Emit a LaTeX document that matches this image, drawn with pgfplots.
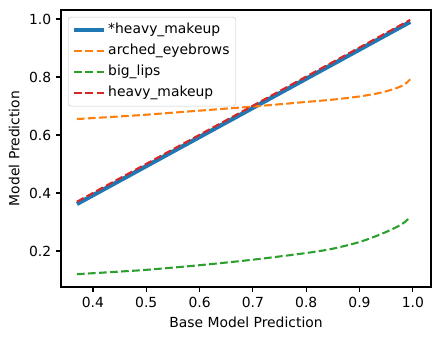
\documentclass[border=0pt]{standalone}
\usepackage{pgfplots}
\pgfplotsset{compat=1.18}
\usepackage{fontspec}
\setmainfont{DejaVu Sans}
\definecolor{c0}{HTML}{1F77B4}
\definecolor{c1}{HTML}{FF7F0E}
\definecolor{c2}{HTML}{2CA02C}
\definecolor{c3}{HTML}{D62728}
\begin{document}
\begin{tikzpicture}
\begin{axis}[
  scale only axis,
  width=266.4pt, height=199.4pt,
  xmin=0.34, xmax=1.034, ymin=0.076, ymax=1.031,
  xtick={0.4,0.5,0.6,0.7,0.8,0.9,1.0},
  ytick={0.2,0.4,0.6,0.8,1.0},
  xticklabels={0.4,0.5,0.6,0.7,0.8,0.9,1.0},
  yticklabels={0.2,0.4,0.6,0.8,1.0},
  tick align=outside, tick pos=left,
  major tick length=3.5pt,
  every tick/.style={black, line width=0.8pt},
  axis line style={line width=0.8pt},
  ticklabel style={font=\fontsize{10}{12}\selectfont},
  label style={font=\fontsize{10}{12}\selectfont},
  xlabel={Base Model Prediction},
  ylabel={Model Prediction},
  legend style={at={(0,1)}, anchor=north west, xshift=5pt, yshift=-5pt,
    draw=black!20, fill=white, fill opacity=0.8, text opacity=1, rounded corners=2pt, font=\fontsize{10}{12}\selectfont,
    row sep=2pt, inner sep=3pt,
    nodes={inner sep=1.5pt, text depth=2.5pt, text height=7.5pt}},
  legend cell align=left,
  legend image code/.code={\draw[#1] (0cm,0cm) -- (0.75cm,0cm);},
  clip=false,
]
\addplot[c0, line width=3pt] coordinates {(0.37,0.362) (0.995,0.99)};
\addlegendentry{*heavy\_makeup}
\addplot[c1, line width=1.5pt, dash pattern=on 5.55pt off 2.4pt, smooth] coordinates {
(0.37,0.655) (0.45,0.664) (0.5,0.670) (0.6,0.684) (0.7,0.698) (0.8,0.714) (0.85,0.722) (0.9,0.733) (0.94,0.746) (0.97,0.762) (0.985,0.775) (0.995,0.792)};
\addlegendentry{arched\_eyebrows}
\addplot[c2, line width=1.5pt, dash pattern=on 5.55pt off 2.4pt, smooth] coordinates {
(0.37,0.120) (0.45,0.129) (0.5,0.135) (0.6,0.151) (0.7,0.170) (0.8,0.193) (0.85,0.208) (0.9,0.231) (0.94,0.258) (0.97,0.283) (0.985,0.300) (0.995,0.318)};
\addlegendentry{big\_lips}
\addplot[c3, line width=1.5pt, dash pattern=on 5.55pt off 2.4pt] coordinates {(0.37,0.370) (0.995,0.997)};
\addlegendentry{heavy\_makeup}
\end{axis}
\pgfresetboundingbox
\path (current axis.south west) ++(-43.9pt,-38.2pt) coordinate (bl);
\path (current axis.north east) ++(6.5pt,7.2pt) coordinate (tr);
\useasboundingbox (bl) rectangle (tr);
\end{tikzpicture}
\end{document}
